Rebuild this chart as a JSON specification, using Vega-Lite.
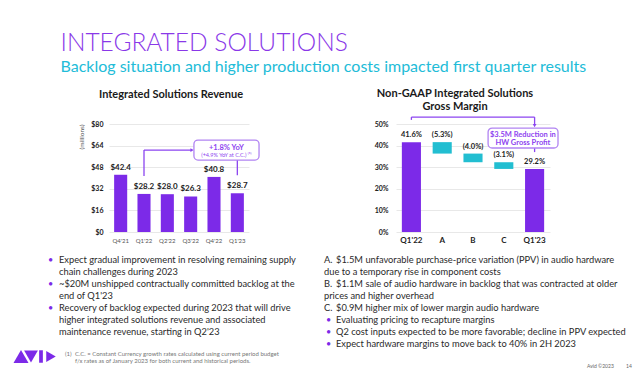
{
  "$schema": "https://vega.github.io/schema/vega-lite/v6.json",
  "background": "white",
  "padding": {"left": 13, "top": 30, "right": 4, "bottom": 4},
  "spacing": 0,
  "config": {
    "view": {"stroke": null},
    "font": "Lato",
    "axis": {"labelFont": "Lato", "titleFont": "Lato", "labelOverlap": false},
    "title": {"font": "Lato", "subtitleFont": "Lato"}
  },
  "title": {
    "text": "INTEGRATED SOLUTIONS",
    "subtitle": "Backlog situation and higher production costs impacted first quarter results",
    "anchor": "start",
    "frame": "bounds",
    "dx": 47,
    "fontSize": 24.5,
    "fontWeight": 300,
    "color": "#8A38E8",
    "subtitleFontSize": 16,
    "subtitleColor": "#22BCD8",
    "subtitlePadding": 3,
    "offset": 12
  },
  "vconcat": [
    {
      "bounds": "flush",
      "spacing": 0,
      "hconcat": [
        {"width": 95, "height": 108, "data": {"values": []}, "mark": "point"},
        {
          "width": 140,
          "height": 108,
          "title": {"text": "Integrated Solutions Revenue", "fontSize": 11, "fontWeight": "bold", "color": "#1a1a1a", "offset": 20, "dx": -8, "anchor": "middle", "frame": "group"},
          "layer": [
            {
              "data": {"values": [
                {"q": "Q4'21", "rev": 42.4},
                {"q": "Q1'22", "rev": 28.2},
                {"q": "Q2'22", "rev": 28.0},
                {"q": "Q3'22", "rev": 26.3},
                {"q": "Q4'22", "rev": 40.8},
                {"q": "Q1'23", "rev": 28.7}
              ]},
              "layer": [
                {
                  "mark": {"type": "bar", "color": "#7C2AE8"},
                  "encoding": {
                    "x": {"field": "q", "type": "nominal", "sort": null, "scale": {"paddingInner": 0.44, "paddingOuter": 0.22},
                      "axis": {"title": null, "labelAngle": 0, "labelFontSize": 6, "labelColor": "#555", "ticks": false, "domain": false, "labelPadding": 5}},
                    "y": {"field": "rev", "type": "quantitative", "scale": {"domain": [0, 80]},
                      "axis": {"values": [0, 16, 32, 48, 64, 80], "tickCount": 12, "labelExpr": "'$' + datum.value", "labelOverlap": false, "labelFontSize": 7, "labelFontWeight": "bold", "labelColor": "#222", "ticks": false, "domain": false, "gridColor": "#e8e8e8", "labelPadding": 6, "title": "(millions)", "titleFontSize": 6.5, "titleFontWeight": "normal", "titleColor": "#555", "titleAnchor": "end", "titlePadding": 6}}
                  }
                },
                {
                  "mark": {"type": "text", "dy": -3, "baseline": "bottom", "fontSize": 8, "fontWeight": "bold", "color": "#222"},
                  "encoding": {
                    "x": {"field": "q", "type": "nominal", "sort": null},
                    "y": {"field": "rev", "type": "quantitative"},
                    "text": {"field": "rev", "type": "quantitative", "format": "$.1f"}
                  }
                }
              ]
            },
            {
              "data": {"values": [{"l1": "+1.8% YoY", "l2": "(+4.9% YoY at C.C.) ⁽¹⁾"}]},
              "layer": [
                {"mark": {"type": "rule", "color": "#8B45F0", "strokeWidth": 1.3},
                  "encoding": {"x": {"datum": 1.5, "type": "quantitative", "scale": {"domain": [0, 6]}, "axis": null}, "y": {"datum": 41.5, "type": "quantitative"}, "y2": {"datum": 60.7}}},
                {"mark": {"type": "rule", "color": "#8B45F0", "strokeWidth": 1.3},
                  "encoding": {"x": {"datum": 1.5, "type": "quantitative", "scale": {"domain": [0, 6]}, "axis": null}, "x2": {"datum": 3.55}, "y": {"datum": 60.7, "type": "quantitative"}}},
                {"mark": {"type": "point", "shape": "triangle-right", "filled": true, "color": "#8B45F0", "size": 14, "opacity": 1},
                  "encoding": {"x": {"datum": 3.56, "type": "quantitative", "scale": {"domain": [0, 6]}, "axis": null}, "y": {"datum": 60.7, "type": "quantitative"}}},
                {"mark": {"type": "rule", "color": "#8B45F0", "strokeWidth": 1.3},
                  "encoding": {"x": {"datum": 5.5, "type": "quantitative", "scale": {"domain": [0, 6]}, "axis": null}, "y": {"datum": 42, "type": "quantitative"}, "y2": {"datum": 53.3}}},
                {"mark": {"type": "rect", "fill": "white", "stroke": "#B184F2", "strokeWidth": 1.3, "cornerRadius": 4},
                  "encoding": {"x": {"datum": 3.64, "type": "quantitative", "scale": {"domain": [0, 6]}, "axis": null}, "x2": {"datum": 6.43}, "y": {"datum": 53.3, "type": "quantitative"}, "y2": {"datum": 68.1}}},
                {"mark": {"type": "text", "fontSize": 7.5, "fontWeight": "bold", "color": "#8E44F0"},
                  "encoding": {"x": {"datum": 5.03, "type": "quantitative", "scale": {"domain": [0, 6]}, "axis": null}, "y": {"datum": 62.4, "type": "quantitative"}, "text": {"field": "l1"}}},
                {"mark": {"type": "text", "fontSize": 5.5, "color": "#8E44F0"},
                  "encoding": {"x": {"datum": 5.03, "type": "quantitative", "scale": {"domain": [0, 6]}, "axis": null}, "y": {"datum": 57.4, "type": "quantitative"}, "text": {"field": "l2"}}}
              ]
            }
          ],
          "resolve": {"scale": {"x": "independent"}}
        },
        {"width": 147, "height": 108, "data": {"values": []}, "mark": "point"},
        {
          "width": 154,
          "height": 108,
          "title": {"text": ["Non-GAAP Integrated Solutions", "Gross Margin"], "fontSize": 11, "fontWeight": "bold", "color": "#1a1a1a", "offset": 4, "dx": -18, "lineHeight": 13, "anchor": "middle", "frame": "group"},
          "layer": [
            {
              "data": {"values": [
                {"cat": "Q1'22", "lo": 0, "hi": 41.6, "label": "41.6%", "kind": "total"},
                {"cat": "A", "lo": 36.3, "hi": 41.6, "label": "(5.3%)", "kind": "change"},
                {"cat": "B", "lo": 32.3, "hi": 36.3, "label": "(4.0%)", "kind": "change"},
                {"cat": "C", "lo": 29.2, "hi": 32.3, "label": "(3.1%)", "kind": "change"},
                {"cat": "Q1'23", "lo": 0, "hi": 29.2, "label": "29.2%", "kind": "total"}
              ]},
              "layer": [
                {
                  "mark": {"type": "bar"},
                  "encoding": {
                    "x": {"field": "cat", "type": "nominal", "sort": null, "scale": {"paddingInner": 0.38, "paddingOuter": 0.19},
                      "axis": {"title": null, "labelAngle": 0, "labelFontSize": 8, "labelFontWeight": "bold", "labelColor": "#222", "ticks": false, "domain": false, "labelPadding": 4}},
                    "y": {"field": "hi", "type": "quantitative", "scale": {"domain": [0, 50]},
                      "axis": {"values": [0, 10, 20, 30, 40, 50], "tickCount": 12, "labelExpr": "datum.value + '%'", "labelOverlap": false, "labelFontSize": 7, "labelFontWeight": "bold", "labelColor": "#222", "ticks": false, "domain": false, "gridColor": "#e8e8e8", "labelPadding": 8, "title": null}},
                    "y2": {"field": "lo"},
                    "color": {"field": "kind", "type": "nominal", "scale": {"domain": ["total", "change"], "range": ["#7C2AE8", "#22BED1"]}, "legend": null}
                  }
                },
                {
                  "mark": {"type": "text", "dy": -3, "baseline": "bottom", "fontSize": 7.5, "fontWeight": "bold", "color": "#222"},
                  "encoding": {
                    "x": {"field": "cat", "type": "nominal", "sort": null},
                    "y": {"field": "hi", "type": "quantitative"},
                    "text": {"field": "label"}
                  }
                }
              ]
            },
            {
              "data": {"values": [{"l1": "$3.5M Reduction in", "l2": "HW Gross Profit"}]},
              "layer": [
                {"mark": {"type": "rule", "color": "#8B45F0", "strokeWidth": 1.3},
                  "encoding": {"x": {"datum": 0.5, "type": "quantitative", "scale": {"domain": [0, 5]}, "axis": null}, "y": {"datum": 51.9, "type": "quantitative"}, "y2": {"datum": 53.2}}},
                {"mark": {"type": "rule", "color": "#8B45F0", "strokeWidth": 1.3},
                  "encoding": {"x": {"datum": 0.5, "type": "quantitative", "scale": {"domain": [0, 5]}, "axis": null}, "x2": {"datum": 4.5}, "y": {"datum": 53.2, "type": "quantitative"}}},
                {"mark": {"type": "rule", "color": "#8B45F0", "strokeWidth": 1.3},
                  "encoding": {"x": {"datum": 4.5, "type": "quantitative", "scale": {"domain": [0, 5]}, "axis": null}, "y": {"datum": 49.8, "type": "quantitative"}, "y2": {"datum": 53.2}}},
                {"mark": {"type": "point", "shape": "triangle-down", "filled": true, "color": "#8B45F0", "size": 14, "opacity": 1},
                  "encoding": {"x": {"datum": 4.5, "type": "quantitative", "scale": {"domain": [0, 5]}, "axis": null}, "y": {"datum": 49.2, "type": "quantitative"}}},
                {"mark": {"type": "rule", "color": "#8B45F0", "strokeWidth": 1.3},
                  "encoding": {"x": {"datum": 4.5, "type": "quantitative", "scale": {"domain": [0, 5]}, "axis": null}, "y": {"datum": 37.0, "type": "quantitative"}, "y2": {"datum": 38.9}}},
                {"mark": {"type": "rect", "fill": "white", "stroke": "#B184F2", "strokeWidth": 1.3, "cornerRadius": 4},
                  "encoding": {"x": {"datum": 2.99, "type": "quantitative", "scale": {"domain": [0, 5]}, "axis": null}, "x2": {"datum": 5.26}, "y": {"datum": 38.9, "type": "quantitative"}, "y2": {"datum": 48.1}}},
                {"mark": {"type": "text", "fontSize": 7.5, "fontWeight": "bold", "color": "#8E44F0"},
                  "encoding": {"x": {"datum": 4.12, "type": "quantitative", "scale": {"domain": [0, 5]}, "axis": null}, "y": {"datum": 44.9, "type": "quantitative"}, "text": {"field": "l1"}}},
                {"mark": {"type": "text", "fontSize": 7.5, "fontWeight": "bold", "color": "#8E44F0"},
                  "encoding": {"x": {"datum": 4.12, "type": "quantitative", "scale": {"domain": [0, 5]}, "axis": null}, "y": {"datum": 41.3, "type": "quantitative"}, "text": {"field": "l2"}}}
              ]
            }
          ],
          "resolve": {"scale": {"x": "independent"}}
        }
      ]
    },
    {
      "bounds": "flush",
      "spacing": 0,
      "hconcat": [
        {"width": 34, "height": 106, "data": {"values": []}, "mark": "point"},
        {
          "width": 276,
          "height": 106,
          "data": {"values": [
            {"line": 0, "b": "•", "t": "Expect gradual improvement in resolving remaining supply"},
            {"line": 1, "t": "chain challenges during 2023"},
            {"line": 2, "b": "•", "t": "~$20M unshipped contractually committed backlog at the"},
            {"line": 3, "t": "end of Q1'23"},
            {"line": 4, "b": "•", "t": "Recovery of backlog expected during 2023 that will drive"},
            {"line": 5, "t": "higher integrated solutions revenue and associated"},
            {"line": 6, "t": "maintenance revenue, starting in Q2'23"}
          ]},
          "encoding": {
            "x": {"datum": 0, "type": "quantitative", "scale": {"domain": [0, 1]}, "axis": null},
            "y": {"field": "line", "type": "quantitative", "scale": {"domain": [-1.333, 7.5], "reverse": true}, "axis": null}
          },
          "layer": [
            {"transform": [{"filter": "isValid(datum.b)"}], "mark": {"type": "text", "align": "left", "fontSize": 9, "color": "#7C2AE8"}, "encoding": {"text": {"field": "b"}}},
            {"mark": {"type": "text", "align": "left", "dx": 11, "fontSize": 9.3, "color": "#2a2a2a"}, "encoding": {"text": {"field": "t"}}}
          ]
        },
        {
          "width": 300,
          "height": 106,
          "data": {"values": [
            {"line": 0, "m": "A.", "t": "$1.5M unfavorable purchase-price variation (PPV) in audio hardware"},
            {"line": 1, "c": "due to a temporary rise in component costs"},
            {"line": 2, "m": "B.", "t": "$1.1M sale of audio hardware in backlog that was contracted at older"},
            {"line": 3, "c": "prices and higher overhead"},
            {"line": 4, "m": "C.", "t": "$0.9M higher mix of lower margin audio hardware"},
            {"line": 5, "b": "•", "t": "Evaluating pricing to recapture margins"},
            {"line": 6, "b": "•", "t": "Q2 cost inputs expected to be more favorable; decline in PPV expected"},
            {"line": 7, "b": "•", "t": "Expect hardware margins to move back to 40% in 2H 2023"}
          ]},
          "encoding": {
            "x": {"datum": 0, "type": "quantitative", "scale": {"domain": [0, 1]}, "axis": null},
            "y": {"field": "line", "type": "quantitative", "scale": {"domain": [-1.333, 7.5], "reverse": true}, "axis": null}
          },
          "layer": [
            {"transform": [{"filter": "isValid(datum.m)"}], "mark": {"type": "text", "align": "left", "fontSize": 9.3, "color": "#2a2a2a"}, "encoding": {"text": {"field": "m"}}},
            {"transform": [{"filter": "isValid(datum.b)"}], "mark": {"type": "text", "align": "left", "dx": 2, "fontSize": 9, "color": "#7C2AE8"}, "encoding": {"text": {"field": "b"}}},
            {"transform": [{"filter": "isValid(datum.t)"}], "mark": {"type": "text", "align": "left", "dx": 12, "fontSize": 9.3, "color": "#2a2a2a"}, "encoding": {"text": {"field": "t"}}},
            {"transform": [{"filter": "isValid(datum.c)"}], "mark": {"type": "text", "align": "left", "fontSize": 9.3, "color": "#2a2a2a"}, "encoding": {"text": {"field": "c"}}}
          ]
        }
      ]
    },
    {
      "bounds": "flush",
      "spacing": 0,
      "hconcat": [
        {
          "width": 44,
          "height": 13,
          "data": {"values": [{"l": "A"}, {"l": "V"}, {"l": "I"}, {"l": "D"}]},
          "mark": {"type": "point", "filled": true, "color": "#7C2AE8", "opacity": 1},
          "encoding": {
            "x": {"field": "l", "type": "nominal", "sort": null, "scale": {"type": "point", "padding": 0.7}, "axis": null},
            "shape": {"field": "l", "type": "nominal", "scale": {"domain": ["A", "V", "I", "D"], "range": ["triangle-up", "triangle-down", "M-0.3,-1L0.3,-1L0.3,1L-0.3,1Z", "triangle-right"]}, "legend": null},
            "size": {"field": "l", "type": "ordinal", "scale": {"domain": ["A", "V", "I", "D"], "range": [225, 121, 169, 169]}, "legend": null}
          }
        },
        {"width": 7, "height": 13, "data": {"values": []}, "mark": "point"},
        {
          "width": 300,
          "height": 14,
          "data": {"values": [
            {"line": 0, "n": "(1)", "t": "C.C. = Constant Currency growth rates calculated using current period budget"},
            {"line": 1, "t": "f/x rates as of January 2023 for both current and historical periods."}
          ]},
          "encoding": {
            "x": {"datum": 0, "type": "quantitative", "scale": {"domain": [0, 1]}, "axis": null},
            "y": {"field": "line", "type": "quantitative", "scale": {"domain": [-0.5, 1.5], "reverse": true}, "axis": null}
          },
          "layer": [
            {"transform": [{"filter": "isValid(datum.n)"}], "mark": {"type": "text", "align": "left", "fontSize": 6, "color": "#777"}, "encoding": {"text": {"field": "n"}}},
            {"mark": {"type": "text", "align": "left", "dx": 10, "fontSize": 6, "color": "#777"}, "encoding": {"text": {"field": "t"}}}
          ]
        },
        {"width": 222, "height": 13, "data": {"values": []}, "mark": "point"},
        {
          "width": 44,
          "height": 14,
          "data": {"values": [{"c": "Avid ©2023", "p": "14"}]},
          "encoding": {"x": {"datum": 0, "type": "quantitative", "scale": {"domain": [0, 1]}, "axis": null}},
          "layer": [
            {"mark": {"type": "text", "align": "left", "dy": 9, "fontSize": 5, "color": "#666"}, "encoding": {"text": {"field": "c"}}},
            {"mark": {"type": "text", "align": "left", "dx": 39, "dy": 9, "fontSize": 5, "color": "#666"}, "encoding": {"text": {"field": "p"}}}
          ]
        }
      ]
    }
  ]
}
